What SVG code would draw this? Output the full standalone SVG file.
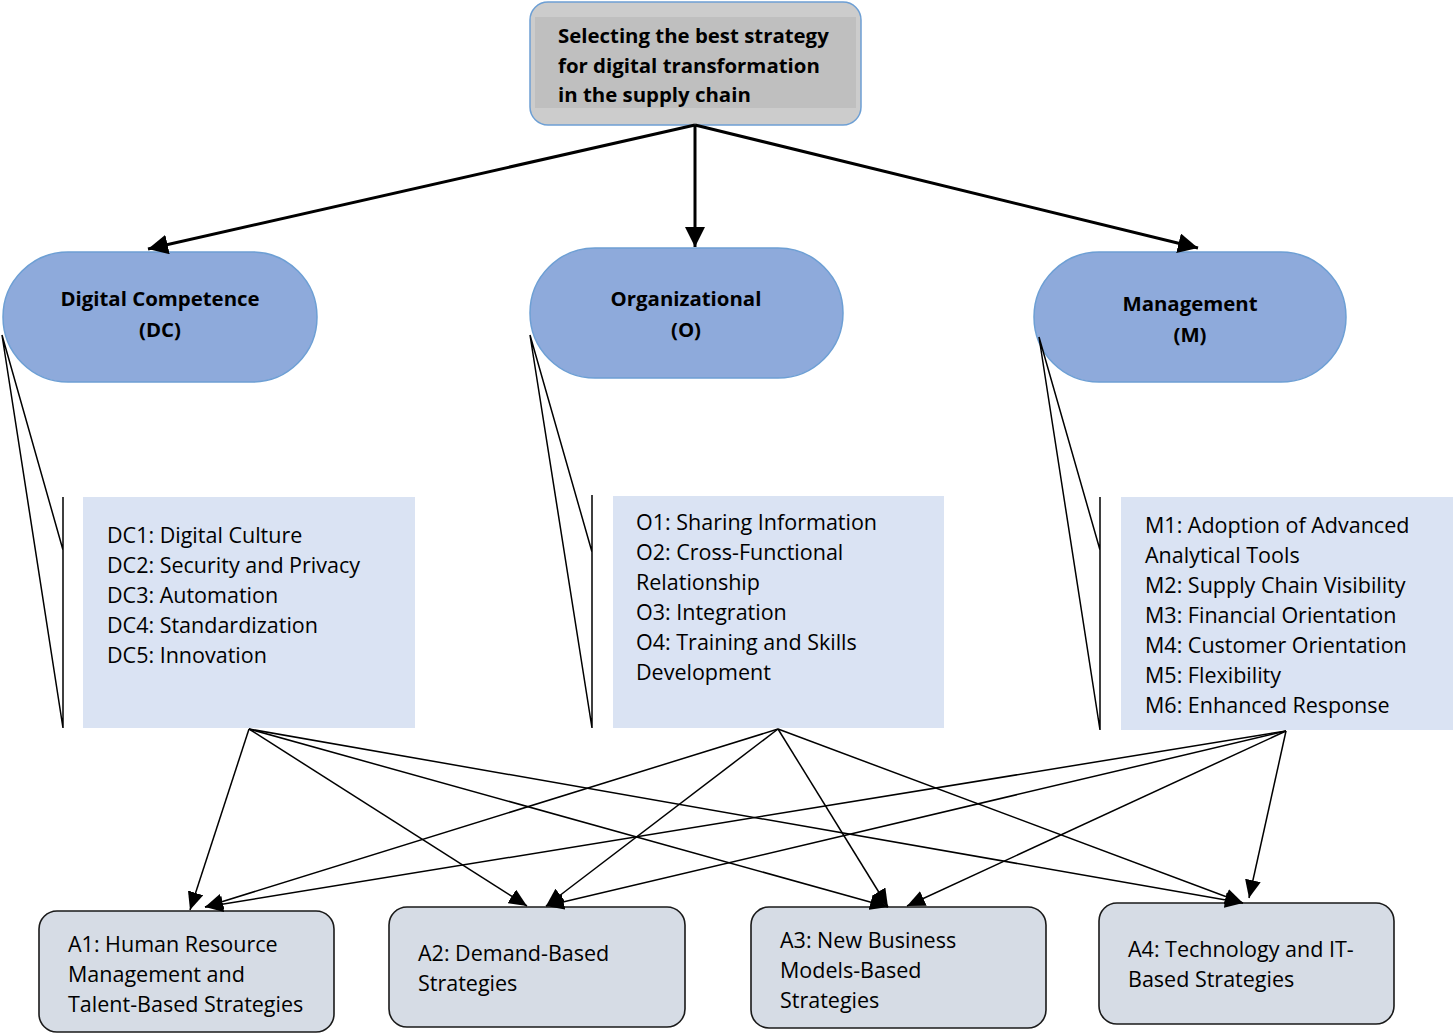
<svg xmlns="http://www.w3.org/2000/svg" width="1453" height="1034" viewBox="0 0 1453 1034">
<style>
  text { font-family: "Open Sans", "Noto Sans", "Liberation Sans", sans-serif; font-size: 21.5px; fill: #000; }
  .b { font-weight: bold; font-size: 20.4px; }
  .mid { text-anchor: middle; }
  .pill { fill: #8eaadb; stroke: #6d9fd4; stroke-width: 1.5; }
  .crit { fill: #dae3f3; }
  .alt { fill: #d6dce5; stroke: #1a1a1a; stroke-width: 1.6; }
  .main { stroke: #000; stroke-width: 3; fill: none; }
  .thin { stroke: #000; stroke-width: 1.5; fill: none; }
</style>
<defs>
  <marker id="bigArrow" markerUnits="userSpaceOnUse" markerWidth="20" markerHeight="20" viewBox="0 0 18 18" refX="18" refY="9" orient="auto">
    <path d="M0,0 L18,9 L0,18 Z" fill="#000"/>
  </marker>
  <marker id="smallArrow" markerUnits="userSpaceOnUse" markerWidth="18" markerHeight="16" viewBox="0 0 18 16" refX="18" refY="8" orient="auto">
    <path d="M0,0 L18,8 L0,16 Z" fill="#000"/>
  </marker>
</defs>

<g id="goal">
  <rect x="530" y="2" width="331" height="123" rx="18" fill="#cccccc" stroke="#6d9fd4" stroke-width="1.5"/>
  <rect x="535" y="17" width="321" height="91" fill="#bfbfbf"/>
  <text class="b" x="558" y="43">Selecting the best strategy</text>
  <text class="b" x="558" y="73">for digital transformation</text>
  <text class="b" x="558" y="102">in the supply chain</text>
</g>

<g id="node-dc">
  <rect class="pill" x="3" y="252" width="314" height="130" rx="65"/>
  <text class="b mid" x="160" y="306">Digital Competence</text>
  <text class="b mid" x="160" y="337">(DC)</text>
</g>
<g id="node-o">
  <rect class="pill" x="530" y="248" width="313" height="130" rx="65"/>
  <text class="b mid" x="686" y="306">Organizational</text>
  <text class="b mid" x="686" y="337">(O)</text>
</g>
<g id="node-m">
  <rect class="pill" x="1034" y="252" width="312" height="130" rx="65"/>
  <text class="b mid" x="1190" y="311">Management</text>
  <text class="b mid" x="1190" y="342">(M)</text>
</g>

<g id="criteria-dc">
  <rect class="crit" x="83" y="497" width="332" height="231"/>
  <text x="107" y="543">DC1: Digital Culture</text>
  <text x="107" y="573">DC2: Security and Privacy</text>
  <text x="107" y="603">DC3: Automation</text>
  <text x="107" y="633">DC4: Standardization</text>
  <text x="107" y="663">DC5: Innovation</text>
</g>
<g id="criteria-o">
  <rect class="crit" x="613" y="496" width="331" height="232"/>
  <text x="636" y="530">O1: Sharing Information</text>
  <text x="636" y="560">O2: Cross-Functional</text>
  <text x="636" y="590">Relationship</text>
  <text x="636" y="620">O3: Integration</text>
  <text x="636" y="650">O4: Training and Skills</text>
  <text x="636" y="680">Development</text>
</g>
<g id="criteria-m">
  <rect class="crit" x="1121" y="497" width="332" height="233"/>
  <text x="1145" y="533">M1: Adoption of Advanced</text>
  <text x="1145" y="563">Analytical Tools</text>
  <text x="1145" y="593">M2: Supply Chain Visibility</text>
  <text x="1145" y="623">M3: Financial Orientation</text>
  <text x="1145" y="653">M4: Customer Orientation</text>
  <text x="1145" y="683">M5: Flexibility</text>
  <text x="1145" y="713">M6: Enhanced Response</text>
</g>

<g id="alt-a1">
  <rect class="alt" x="39" y="911" width="295" height="121" rx="18"/>
  <text x="68" y="952">A1: Human Resource</text>
  <text x="68" y="982">Management and</text>
  <text x="68" y="1012">Talent-Based Strategies</text>
</g>
<g id="alt-a2">
  <rect class="alt" x="389" y="907" width="296" height="120" rx="18"/>
  <text x="418" y="961">A2: Demand-Based</text>
  <text x="418" y="991">Strategies</text>
</g>
<g id="alt-a3">
  <rect class="alt" x="751" y="907" width="295" height="121" rx="18"/>
  <text x="780" y="948">A3: New Business</text>
  <text x="780" y="978">Models-Based</text>
  <text x="780" y="1008">Strategies</text>
</g>
<g id="alt-a4">
  <rect class="alt" x="1099" y="903" width="295" height="121" rx="18"/>
  <text x="1128" y="957">A4: Technology and IT-</text>
  <text x="1128" y="987">Based Strategies</text>
</g>

<g id="connectors">
  <!-- goal to dimensions -->
  <line class="main" x1="695" y1="125" x2="148" y2="249" marker-end="url(#bigArrow)"/>
  <line class="main" x1="695" y1="125" x2="695" y2="247" marker-end="url(#bigArrow)"/>
  <line class="main" x1="695" y1="125" x2="1198" y2="248" marker-end="url(#bigArrow)"/>
  <!-- brackets -->
  <path class="thin" d="M2,335 L63,550 M2,335 L63,728 M63,497 L63,728"/>
  <path class="thin" d="M530,335 L592,552 M530,335 L592,728 M592,495 L592,728"/>
  <path class="thin" d="M1039,337 L1100,550 M1039,337 L1100,730 M1100,497 L1100,730"/>
  <!-- DC to alternatives -->
  <line class="thin" x1="249" y1="729" x2="190" y2="910" marker-end="url(#smallArrow)"/>
  <line class="thin" x1="249" y1="729" x2="527" y2="906" marker-end="url(#smallArrow)"/>
  <line class="thin" x1="249" y1="729" x2="888" y2="907" marker-end="url(#smallArrow)"/>
  <line class="thin" x1="249" y1="729" x2="1243" y2="903" marker-end="url(#smallArrow)"/>
  <!-- O to alternatives -->
  <line class="thin" x1="778" y1="729" x2="205" y2="907" marker-end="url(#smallArrow)"/>
  <line class="thin" x1="778" y1="729" x2="546" y2="906" marker-end="url(#smallArrow)"/>
  <line class="thin" x1="778" y1="729" x2="888" y2="907" marker-end="url(#smallArrow)"/>
  <line class="thin" x1="778" y1="729" x2="1243" y2="903" marker-end="url(#smallArrow)"/>
  <!-- M to alternatives -->
  <line class="thin" x1="1286" y1="731" x2="205" y2="907" marker-end="url(#smallArrow)"/>
  <line class="thin" x1="1286" y1="731" x2="546" y2="906" marker-end="url(#smallArrow)"/>
  <line class="thin" x1="1286" y1="731" x2="907" y2="906" marker-end="url(#smallArrow)"/>
  <line class="thin" x1="1286" y1="731" x2="1249" y2="898" marker-end="url(#smallArrow)"/>
</g>
</svg>
